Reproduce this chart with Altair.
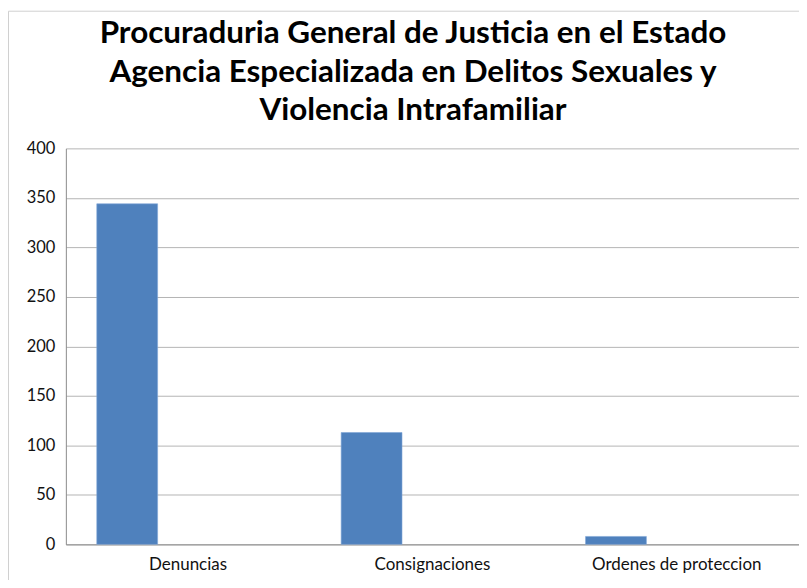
import altair as alt
import pandas as pd

categories = ["Denuncias", "Consignaciones", "Ordenes de proteccion"]
values = [344, 113, 8]
title_lines = [
    "Procuraduria General de Justicia en el Estado",
    "Agencia Especializada en Delitos Sexuales y",
    "Violencia Intrafamiliar",
]
y_ticks = [0, 50, 100, 150, 200, 250, 300, 350, 400]

df = pd.DataFrame({"categoria": categories, "valor": values})

PLOT_W = 735
PLOT_H = 397

border = alt.Chart(pd.DataFrame({"k": [0]})).mark_rect(
    filled=False, stroke="#d0d0d0", strokeWidth=1
).encode(
    x=alt.value(-57.5), x2=alt.value(PLOT_W + 40),
    y=alt.value(-137.5), y2=alt.value(PLOT_H + 80),
)

title = alt.Chart(pd.DataFrame({"t": ["\n".join(title_lines)]})).mark_text(
    lineBreak="\n", lineHeight=39, fontSize=31.5, font="Lato", fontWeight="bold",
    color="#000000", align="center", baseline="alphabetic",
).encode(
    text="t:N", x=alt.value(348), y=alt.value(-106),
)

bars = alt.Chart(df).mark_bar(
    width=61, xOffset=-61, color="#4F81BD", stroke="#7fa6d6", strokeWidth=0.6
).encode(
    x=alt.X(
        "categoria:N", sort=categories, title=None,
        scale=alt.Scale(paddingInner=0, paddingOuter=0),
        axis=alt.Axis(
            labelAngle=0, ticks=False, domainColor="#8c8c8c", labelFontSize=17,
            labelFont="Lato", labelColor="#111111", labelPadding=12, grid=False,
        ),
    ),
    y=alt.Y(
        "valor:Q", title=None,
        scale=alt.Scale(domain=[0, 400], nice=False),
        axis=alt.Axis(
            values=y_ticks, ticks=False, domainColor="#8c8c8c", gridColor="#b5b5b5",
            labelFontSize=16.5, labelFont="Lato", labelColor="#111111", labelPadding=11,
        ),
    ),
)

chart = alt.layer(border, title, bars).properties(
    width=PLOT_W,
    height=PLOT_H,
    autosize=alt.AutoSizeParams(type="none"),
    padding={"left": 58, "top": 140, "right": 0, "bottom": 35},
).configure_view(stroke=None)

chart.save("out.html", embed_options={"renderer": "svg", "actions": False})
